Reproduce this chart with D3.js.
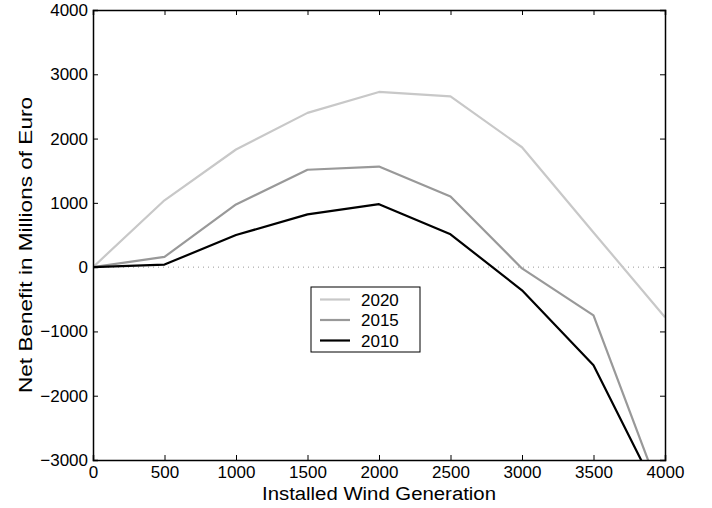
<!DOCTYPE html>
<html>
<head>
<meta charset="utf-8">
<script src="https://cdn.jsdelivr.net/npm/d3@7"></script>
<style>
  body { margin: 0; background: #fff; }
  text { font-family: "Liberation Sans", Arial, sans-serif; fill: #000; }
</style>
</head>
<body>
<div id="chart"></div>
<script>
// installed wind generation (x) and net benefit per year (millions of euro)
var xValues = [0, 500, 1000, 1500, 2000, 2500, 3000, 3500, 4000];
var y2020 = [0, 1040, 1830, 2400, 2725, 2655, 1865, 540, -780];
var y2015 = [0, 160, 975, 1515, 1565, 1100, -20, -750, -3700];
var y2010 = [0, 40, 500, 820, 980, 510, -360, -1525, -3740];
var seriesNames = ["2020", "2015", "2010"];
var seriesColors = ["#c8c8c8", "#999999", "#000000"];
var xTicks = [0, 500, 1000, 1500, 2000, 2500, 3000, 3500, 4000];
var yTicks = [-3000, -2000, -1000, 0, 1000, 2000, 3000, 4000];

var W = 712, H = 508;
var margin = {top: 10, right: 47, bottom: 48, left: 93};
var width = W - margin.left - margin.right;
var height = H - margin.top - margin.bottom;

var svg = d3.select("#chart").append("svg")
    .attr("width", W)
    .attr("height", H);

var g = svg.append("g")
    .attr("transform", "translate(" + margin.left + "," + margin.top + ")");

var x = d3.scaleLinear().domain([0, 4000]).range([0, width]);
var y = d3.scaleLinear().domain([-3000, 4000]).range([height, 0]);

// clip so the curves stop at the frame
g.append("clipPath").attr("id", "clip")
  .append("rect").attr("width", width).attr("height", height);

// dotted zero line
g.append("line")
    .attr("x1", 0).attr("x2", width)
    .attr("y1", y(0)).attr("y2", y(0))
    .attr("stroke", "#999")
    .attr("stroke-width", 1)
    .attr("stroke-dasharray", "1,4");

var series = [y2020, y2015, y2010];
var line = d3.line()
    .x(function(d, i) { return x(xValues[i]); })
    .y(function(d) { return y(d); });

g.append("g").attr("clip-path", "url(#clip)")
  .selectAll("path")
  .data(series)
  .enter().append("path")
    .attr("d", line)
    .attr("fill", "none")
    .attr("stroke", function(d, i) { return seriesColors[i]; })
    .attr("stroke-width", 2.2)
    .attr("stroke-linejoin", "round");

// axes, ticks pointing inward, MATLAB style
var fontSize = "17px";
var xAxis = g.append("g")
    .attr("transform", "translate(0," + height + ")")
    .call(d3.axisBottom(x).tickValues(xTicks).tickSize(-5).tickPadding(8).tickFormat(d3.format("d")));
var yAxis = g.append("g")
    .call(d3.axisLeft(y).tickValues(yTicks).tickSize(-5).tickPadding(5)
      .tickFormat(function(d) { return d < 0 ? "\u2212" + Math.abs(d) : d; }));
var xTop = g.append("g")
    .call(d3.axisTop(x).tickValues(xTicks).tickSize(-5).tickFormat(""));
var yRight = g.append("g")
    .attr("transform", "translate(" + width + ",0)")
    .call(d3.axisRight(y).tickValues(yTicks).tickSize(-5).tickFormat(""));

[xAxis, yAxis, xTop, yRight].forEach(function(a) {
  a.select(".domain").attr("stroke", "#000").attr("stroke-width", 1.5);
  a.selectAll(".tick line").attr("stroke", "#000");
  a.selectAll("text").style("font-size", fontSize)
    .style("font-family", "'Liberation Sans', Arial, sans-serif")
    .attr("fill", "#000");
});
xAxis.selectAll("text").attr("dy", "0.6em");
yAxis.selectAll(".tick text").attr("dy", "0.32em");

// axis titles (the original font is a bit wider, so stretch to its length)
svg.append("text")
    .attr("x", margin.left + width / 2)
    .attr("y", 500)
    .attr("text-anchor", "middle")
    .attr("textLength", 234)
    .attr("lengthAdjust", "spacingAndGlyphs")
    .style("font-size", "18px")
    .text("Installed Wind Generation");

svg.append("text")
    .attr("transform", "translate(32,245) rotate(-90)")
    .attr("text-anchor", "middle")
    .attr("textLength", 296)
    .attr("lengthAdjust", "spacingAndGlyphs")
    .style("font-size", "19px")
    .text("Net Benefit in Millions of Euro");

// legend
var legend = svg.append("g").attr("transform", "translate(311,287)");
legend.append("rect")
    .attr("width", 109).attr("height", 65)
    .attr("fill", "#fff")
    .attr("stroke", "#000")
    .attr("stroke-width", 1);

var rows = legend.selectAll(".row")
    .data(seriesNames)
    .enter().append("g")
    .attr("class", "row")
    .attr("transform", function(d, i) { return "translate(0," + (12.5 + i * 20.5) + ")"; });

rows.append("line")
    .attr("x1", 9).attr("x2", 39)
    .attr("stroke", function(d, i) { return seriesColors[i]; })
    .attr("stroke-width", 2.2);

rows.append("text")
    .attr("x", 50)
    .attr("dy", "0.36em")
    .style("font-size", fontSize)
    .text(function(d) { return d; });
</script>
</body>
</html>
